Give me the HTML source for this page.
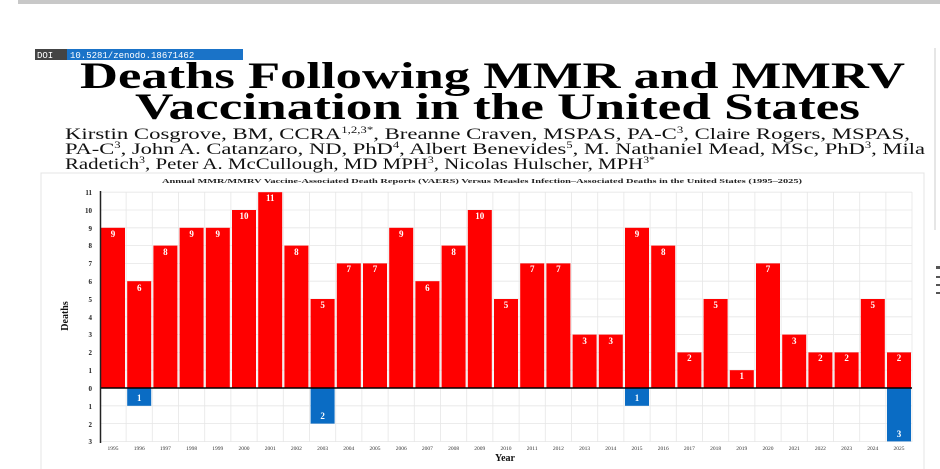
<!DOCTYPE html>
<html><head><meta charset="utf-8"><style>
html,body{margin:0;padding:0;background:#fff;width:940px;height:469px;overflow:hidden}
svg{display:block}
</style></head><body>
<svg width="940" height="469" viewBox="0 0 940 469" xmlns="http://www.w3.org/2000/svg" font-family="Liberation Serif, serif">
<rect x="0" y="0" width="940" height="469" fill="#fff"/>
<rect x="18" y="0" width="922" height="4" fill="#c8c8c8"/>
<line x1="935" y1="48" x2="935" y2="230" stroke="#ddd" stroke-width="1.5"/>
<rect x="35" y="49" width="32" height="11" fill="#444"/>
<text x="37" y="58" font-family="Liberation Mono, monospace" font-size="9" fill="#fff">DOI</text>
<rect x="67" y="49" width="176" height="11" fill="#1a73c8"/>
<text x="70" y="58" font-family="Liberation Mono, monospace" font-size="9" fill="#fff">10.5281/zenodo.18671462</text>
<text x="80" y="88" font-size="37" font-weight="bold" fill="#000" textLength="825" lengthAdjust="spacingAndGlyphs">Deaths Following MMR and MMRV</text>
<text x="135" y="119" font-size="37" font-weight="bold" fill="#000" textLength="725" lengthAdjust="spacingAndGlyphs">Vaccination in the United States</text>
<g font-size="16" fill="#111">
<text x="65" y="139" textLength="845" lengthAdjust="spacingAndGlyphs">Kirstin Cosgrove, BM, CCRA<tspan font-size="9" dy="-6">1,2,3*</tspan><tspan dy="6">, Breanne Craven, MSPAS, PA-C</tspan><tspan font-size="9" dy="-6">3</tspan><tspan dy="6">, Claire Rogers, MSPAS,</tspan></text>
<text x="65" y="154" textLength="860" lengthAdjust="spacingAndGlyphs">PA-C<tspan font-size="9" dy="-6">3</tspan><tspan dy="6">, John A. Catanzaro, ND, PhD</tspan><tspan font-size="9" dy="-6">4</tspan><tspan dy="6">, Albert Benevides</tspan><tspan font-size="9" dy="-6">5</tspan><tspan dy="6">, M. Nathaniel Mead, MSc, PhD</tspan><tspan font-size="9" dy="-6">3</tspan><tspan dy="6">, Mila</tspan></text>
<text x="65" y="169" textLength="590" lengthAdjust="spacingAndGlyphs">Radetich<tspan font-size="9" dy="-6">3</tspan><tspan dy="6">, Peter A. McCullough, MD MPH</tspan><tspan font-size="9" dy="-6">3</tspan><tspan dy="6">, Nicolas Hulscher, MPH</tspan><tspan font-size="9" dy="-6">3*</tspan></text>
</g>
<rect x="41" y="173" width="883" height="300" fill="#fff" stroke="#e4e4e4"/>
<text x="482" y="183" text-anchor="middle" font-size="6.5" font-weight="bold" fill="#222" textLength="640" lengthAdjust="spacingAndGlyphs">Annual MMR/MMRV Vaccine-Associated Death Reports (VAERS) Versus Measles Infection–Associated Deaths in the United States (1995–2025)</text>
<g stroke="#e6e6e6" stroke-width="0.8">
<line x1="100" y1="192.2" x2="912" y2="192.2"/><line x1="100" y1="210" x2="912" y2="210"/><line x1="100" y1="227.8" x2="912" y2="227.8"/><line x1="100" y1="245.6" x2="912" y2="245.6"/><line x1="100" y1="263.4" x2="912" y2="263.4"/><line x1="100" y1="281.2" x2="912" y2="281.2"/><line x1="100" y1="299" x2="912" y2="299"/><line x1="100" y1="316.8" x2="912" y2="316.8"/><line x1="100" y1="334.6" x2="912" y2="334.6"/><line x1="100" y1="352.4" x2="912" y2="352.4"/><line x1="100" y1="370.2" x2="912" y2="370.2"/><line x1="100" y1="405.8" x2="912" y2="405.8"/><line x1="100" y1="423.6" x2="912" y2="423.6"/><line x1="100" y1="441.4" x2="912" y2="441.4"/>
<line x1="126.1" y1="192" x2="126.1" y2="442"/><line x1="152.3" y1="192" x2="152.3" y2="442"/><line x1="178.5" y1="192" x2="178.5" y2="442"/><line x1="204.7" y1="192" x2="204.7" y2="442"/><line x1="230.9" y1="192" x2="230.9" y2="442"/><line x1="257.1" y1="192" x2="257.1" y2="442"/><line x1="283.3" y1="192" x2="283.3" y2="442"/><line x1="309.5" y1="192" x2="309.5" y2="442"/><line x1="335.7" y1="192" x2="335.7" y2="442"/><line x1="361.9" y1="192" x2="361.9" y2="442"/><line x1="388.1" y1="192" x2="388.1" y2="442"/><line x1="414.3" y1="192" x2="414.3" y2="442"/><line x1="440.5" y1="192" x2="440.5" y2="442"/><line x1="466.7" y1="192" x2="466.7" y2="442"/><line x1="492.9" y1="192" x2="492.9" y2="442"/><line x1="519.1" y1="192" x2="519.1" y2="442"/><line x1="545.3" y1="192" x2="545.3" y2="442"/><line x1="571.5" y1="192" x2="571.5" y2="442"/><line x1="597.7" y1="192" x2="597.7" y2="442"/><line x1="623.9" y1="192" x2="623.9" y2="442"/><line x1="650.1" y1="192" x2="650.1" y2="442"/><line x1="676.3" y1="192" x2="676.3" y2="442"/><line x1="702.5" y1="192" x2="702.5" y2="442"/><line x1="728.7" y1="192" x2="728.7" y2="442"/><line x1="754.9" y1="192" x2="754.9" y2="442"/><line x1="781.1" y1="192" x2="781.1" y2="442"/><line x1="807.3" y1="192" x2="807.3" y2="442"/><line x1="833.5" y1="192" x2="833.5" y2="442"/><line x1="859.7" y1="192" x2="859.7" y2="442"/><line x1="885.9" y1="192" x2="885.9" y2="442"/><line x1="912" y1="192" x2="912" y2="442"/>
</g>
<g fill="#f00">
<rect x="101" y="227.8" width="24" height="160.2"/><rect x="127.2" y="281.2" width="24" height="106.8"/><rect x="153.4" y="245.6" width="24" height="142.4"/><rect x="179.6" y="227.8" width="24" height="160.2"/><rect x="205.8" y="227.8" width="24" height="160.2"/><rect x="232" y="210" width="24" height="178"/><rect x="258.2" y="192.2" width="24" height="195.8"/><rect x="284.4" y="245.6" width="24" height="142.4"/><rect x="310.6" y="299" width="24" height="89"/><rect x="336.8" y="263.4" width="24" height="124.6"/><rect x="363" y="263.4" width="24" height="124.6"/><rect x="389.2" y="227.8" width="24" height="160.2"/><rect x="415.4" y="281.2" width="24" height="106.8"/><rect x="441.6" y="245.6" width="24" height="142.4"/><rect x="467.8" y="210" width="24" height="178"/><rect x="494" y="299" width="24" height="89"/><rect x="520.2" y="263.4" width="24" height="124.6"/><rect x="546.4" y="263.4" width="24" height="124.6"/><rect x="572.6" y="334.6" width="24" height="53.4"/><rect x="598.8" y="334.6" width="24" height="53.4"/><rect x="625" y="227.8" width="24" height="160.2"/><rect x="651.2" y="245.6" width="24" height="142.4"/><rect x="677.4" y="352.4" width="24" height="35.6"/><rect x="703.6" y="299" width="24" height="89"/><rect x="729.8" y="370.2" width="24" height="17.8"/><rect x="756" y="263.4" width="24" height="124.6"/><rect x="782.2" y="334.6" width="24" height="53.4"/><rect x="808.4" y="352.4" width="24" height="35.6"/><rect x="834.6" y="352.4" width="24" height="35.6"/><rect x="860.8" y="299" width="24" height="89"/><rect x="887" y="352.4" width="24" height="35.6"/>
</g>
<g fill="#0a6cc4">
<rect x="127.2" y="388" width="24" height="17.8"/><rect x="310.6" y="388" width="24" height="35.6"/><rect x="625" y="388" width="24" height="17.8"/><rect x="887" y="388" width="24" height="53.4"/>
</g>
<line x1="100" y1="388" x2="912" y2="388" stroke="#000" stroke-width="1.5"/>
<line x1="100.5" y1="191" x2="100.5" y2="443" stroke="#222" stroke-width="1.5"/>
<g fill="#fff" font-size="9" font-weight="bold" text-anchor="middle">
<text x="113" y="237">9</text><text x="139.2" y="291">6</text><text x="165.4" y="255">8</text><text x="191.6" y="237">9</text><text x="217.8" y="237">9</text><text x="244" y="219">10</text><text x="270.2" y="201">11</text><text x="296.4" y="255">8</text><text x="322.6" y="308">5</text><text x="348.8" y="272">7</text><text x="375" y="272">7</text><text x="401.2" y="237">9</text><text x="427.4" y="291">6</text><text x="453.6" y="255">8</text><text x="479.8" y="219">10</text><text x="506" y="308">5</text><text x="532.2" y="272">7</text><text x="558.4" y="272">7</text><text x="584.6" y="344">3</text><text x="610.8" y="344">3</text><text x="637" y="237">9</text><text x="663.2" y="255">8</text><text x="689.4" y="361">2</text><text x="715.6" y="308">5</text><text x="741.8" y="379">1</text><text x="768" y="272">7</text><text x="794.2" y="344">3</text><text x="820.4" y="361">2</text><text x="846.6" y="361">2</text><text x="872.8" y="308">5</text><text x="899" y="361">2</text>
<text x="139.2" y="401">1</text><text x="322.6" y="419">2</text><text x="637" y="401">1</text><text x="899" y="437">3</text>
</g>
<g font-size="7" font-weight="bold" fill="#222" text-anchor="end">
<text x="92" y="195">11</text><text x="92" y="213">10</text><text x="92" y="231">9</text><text x="92" y="248">8</text><text x="92" y="266">7</text><text x="92" y="284">6</text><text x="92" y="302">5</text><text x="92" y="320">4</text><text x="92" y="337">3</text><text x="92" y="355">2</text><text x="92" y="373">1</text><text x="92" y="391">0</text><text x="92" y="409">1</text><text x="92" y="427">2</text><text x="92" y="444">3</text>
</g>
<text transform="translate(68,316) rotate(-90)" text-anchor="middle" font-size="10" font-weight="bold" fill="#111">Deaths</text>
<g font-size="5.5" fill="#333" text-anchor="middle">
<text x="113" y="450">1995</text><text x="139.2" y="450">1996</text><text x="165.4" y="450">1997</text><text x="191.6" y="450">1998</text><text x="217.8" y="450">1999</text><text x="244" y="450">2000</text><text x="270.2" y="450">2001</text><text x="296.4" y="450">2002</text><text x="322.6" y="450">2003</text><text x="348.8" y="450">2004</text><text x="375" y="450">2005</text><text x="401.2" y="450">2006</text><text x="427.4" y="450">2007</text><text x="453.6" y="450">2008</text><text x="479.8" y="450">2009</text><text x="506" y="450">2010</text><text x="532.2" y="450">2011</text><text x="558.4" y="450">2012</text><text x="584.6" y="450">2013</text><text x="610.8" y="450">2014</text><text x="637" y="450">2015</text><text x="663.2" y="450">2016</text><text x="689.4" y="450">2017</text><text x="715.6" y="450">2018</text><text x="741.8" y="450">2019</text><text x="768" y="450">2020</text><text x="794.2" y="450">2021</text><text x="820.4" y="450">2022</text><text x="846.6" y="450">2023</text><text x="872.8" y="450">2024</text><text x="899" y="450">2025</text>
</g>
<text x="505" y="461" text-anchor="middle" font-size="10" font-weight="bold" fill="#111">Year</text>
<g fill="#555"><rect x="936" y="266" width="4" height="3"/><rect x="936" y="276" width="4" height="2"/><rect x="936" y="284" width="4" height="2"/><rect x="936" y="292" width="4" height="2"/></g>
</svg>
</body></html>
